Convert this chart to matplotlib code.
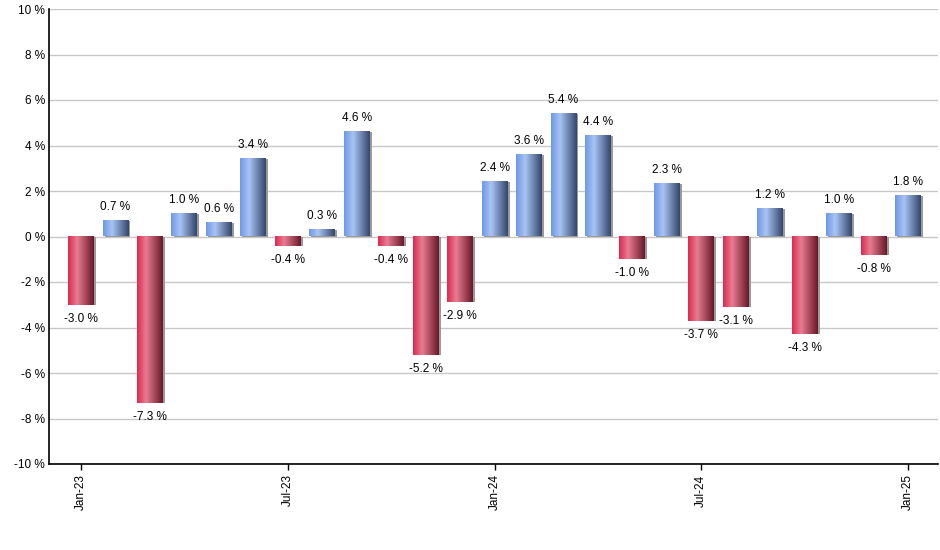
import numpy as np
import matplotlib.pyplot as plt
from matplotlib.colors import LinearSegmentedColormap

plt.rcParams['font.family'] = ['Liberation Sans', 'DejaVu Sans']

# data
months = ["Jan-23", "Feb-23", "Mar-23", "Apr-23", "May-23", "Jun-23", "Jul-23", "Aug-23",
          "Sep-23", "Oct-23", "Nov-23", "Dec-23", "Jan-24", "Feb-24", "Mar-24", "Apr-24",
          "May-24", "Jun-24", "Jul-24", "Aug-24", "Sep-24", "Oct-24", "Nov-24", "Dec-24", "Jan-25"]
returns = [-3.0, 0.7, -7.3, 1.0, 0.6, 3.4, -0.4, 0.3, 4.6, -0.4, -5.2, -2.9, 2.4, 3.6,
           5.4, 4.4, -1.0, 2.3, -3.7, -3.1, 1.2, -4.3, 1.0, -0.8, 1.8]
tick_labels = ["Jan-23", "Jul-23", "Jan-24", "Jul-24", "Jan-25"]
yticks = [-10, -8, -6, -4, -2, 0, 2, 4, 6, 8, 10]

blue = LinearSegmentedColormap.from_list("b", [(0, "#6f98e6"), (0.35, "#a9c4f5"), (1, "#33476c")])
red = LinearSegmentedColormap.from_list("r", [(0, "#dc2a50"), (0.35, "#e87d92"), (1, "#6a1828")])
grad = np.linspace(0, 1, 64).reshape(1, -1)

fig = plt.figure(figsize=(9.4, 5.5), dpi=100)
ax = fig.add_axes([49 / 940, 1 - 464 / 550, 889 / 940, 455 / 550])

w = 0.75
for i, v in enumerate(returns):
    cm = blue if v >= 0 else red
    # shadow
    ax.bar(i + 0.06, v, width=w, color="#9a9a9a", zorder=2)
    ax.imshow(grad, cmap=cm, aspect="auto", extent=[i - w / 2, i + w / 2, 0, v],
              zorder=3, interpolation="bilinear")
    lbl = f"{v:.1f} %"
    if v >= 0:
        ax.text(i, v + 0.35, lbl, ha="center", va="bottom", fontsize=8.5, zorder=4)
    else:
        ax.text(i, v - 0.35, lbl, ha="center", va="top", fontsize=8.5, zorder=4)

ax.set_xlim(-0.93, 24.87)
ax.set_ylim(-10, 10)
ax.set_yticks(yticks)
ax.set_yticklabels([f"{t} %" for t in yticks], fontsize=8.5)
ax.yaxis.grid(True, color="#c8c8c8", linewidth=1)
ax.set_axisbelow(True)
ax.tick_params(axis="y", length=0, pad=3)

pos = [months.index(t) for t in tick_labels]
ax.set_xticks(pos)
ax.set_xticklabels(tick_labels, rotation=90, fontsize=8.5)
ax.tick_params(axis="x", length=4, direction="out", width=1)

for s in ["top", "right"]:
    ax.spines[s].set_visible(False)
ax.spines["left"].set_linewidth(1.2)
ax.spines["bottom"].set_linewidth(1.2)

plt.savefig("out.png", dpi=100)
